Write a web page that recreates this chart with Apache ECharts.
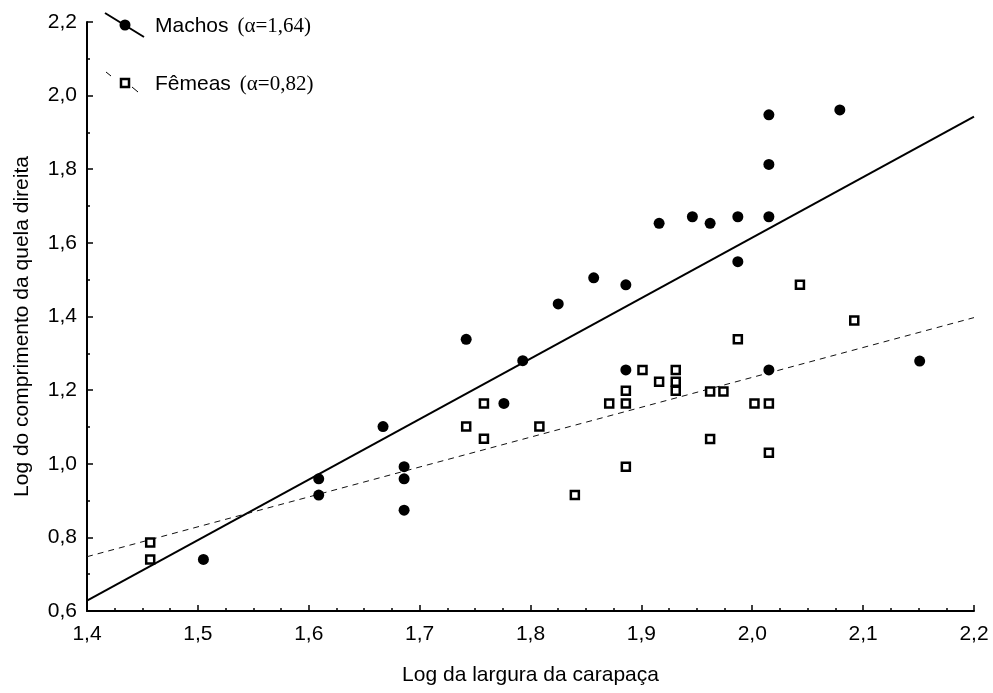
<!DOCTYPE html>
<html>
<head>
<meta charset="utf-8">
<script src="https://cdn.jsdelivr.net/npm/echarts@6/dist/echarts.min.js"></script>
<style>
html,body{margin:0;padding:0;background:#fff;}
#chart{width:993px;height:693px;}
</style>
</head>
<body>
<div id="chart"></div>
<script>
// Log da largura da carapaça (x) vs Log do comprimento da quela direita (y)
var machosX = [1.505, 1.609, 1.609, 1.667, 1.686, 1.686, 1.686, 1.742, 1.776, 1.793, 1.825, 1.857, 1.886, 1.886, 1.916, 1.946, 1.962, 1.987, 1.987, 2.015, 2.015, 2.015, 2.015, 2.079, 2.151];
var machosY = [0.740, 0.915, 0.959, 1.101, 0.992, 0.959, 0.874, 1.338, 1.164, 1.280, 1.434, 1.505, 1.486, 1.255, 1.653, 1.671, 1.653, 1.671, 1.549, 1.948, 1.813, 1.671, 1.255, 1.961, 1.279];

var femeasX = [1.457, 1.457, 1.742, 1.758, 1.758, 1.808, 1.840, 1.871, 1.886, 1.886, 1.886, 1.901, 1.916, 1.931, 1.931, 1.931, 1.962, 1.962, 1.974, 1.987, 2.002, 2.015, 2.015, 2.043, 2.092];
var femeasY = [0.786, 0.740, 1.101, 1.164, 1.068, 1.101, 0.915, 1.164, 1.198, 1.164, 0.992, 1.255, 1.223, 1.255, 1.223, 1.198, 1.196, 1.067, 1.196, 1.338, 1.164, 1.164, 1.030, 1.486, 1.389];

// Fitted lines (endpoints at x = 1.4 and 2.2)
var fitX = [1.4, 2.2];
var machosFitY = [0.628, 1.943];
var femeasFitY = [0.7475, 1.397];

var xTicks = [1.4, 1.5, 1.6, 1.7, 1.8, 1.9, 2.0, 2.1, 2.2];
var yTicks = [0.6, 0.8, 1.0, 1.2, 1.4, 1.6, 1.8, 2.0, 2.2];

var legendLabels = ['Machos', 'Fêmeas'];
var legendAlpha = ['(α=1,64)', '(α=0,82)'];

function zip(a, b) { return a.map(function (v, i) { return [v, b[i]]; }); }
function fmt(v) { return v.toFixed(1).replace('.', ','); }

var FONT = '"Liberation Sans", Arial, sans-serif';
var SERIF = '"Liberation Serif", "Times New Roman", serif';

var chart = echarts.init(document.getElementById('chart'), null, {renderer: 'canvas'});

var axisCommon = {
  axisLine: {show: true, onZero: false, lineStyle: {color: '#000', width: 2}},
  axisTick: {show: true, inside: true, length: 6, lineStyle: {color: '#000', width: 1.5}},
  minorTick: {show: true, length: 3, lineStyle: {color: '#000', width: 1.5}},
  splitLine: {show: false},
  axisLabel: {color: '#000', fontSize: 21, fontFamily: FONT, formatter: function (v) { return fmt(v); }},
  nameTextStyle: {color: '#000', fontSize: 21, fontFamily: FONT}
};

var richStyles = {
  a: {fontFamily: FONT, fontSize: 21, fill: '#000'},
  s: {fontFamily: FONT, fontSize: 21, width: 9},
  b: {fontFamily: SERIF, fontSize: 21, fill: '#000'}
};

var option = {
  animation: false,
  backgroundColor: '#fff',
  grid: {left: 87, right: 19, top: 22, bottom: 82, containLabel: false},
  xAxis: Object.assign({}, axisCommon, {
    type: 'value',
    min: xTicks[0], max: xTicks[xTicks.length - 1], interval: 0.1,
    minorTick: Object.assign({}, axisCommon.minorTick, {splitNumber: 4}),
    axisLabel: Object.assign({}, axisCommon.axisLabel, {margin: 13}),
    name: 'Log da largura da carapaça',
    nameLocation: 'middle',
    nameGap: 54
  }),
  yAxis: Object.assign({}, axisCommon, {
    type: 'value',
    min: yTicks[0], max: yTicks[yTicks.length - 1], interval: 0.2,
    minorTick: Object.assign({}, axisCommon.minorTick, {splitNumber: 2}),
    axisLabel: Object.assign({}, axisCommon.axisLabel, {margin: 10}),
    name: 'Log do comprimento da quela direita',
    nameLocation: 'middle',
    nameGap: 54,
    nameTextStyle: Object.assign({}, axisCommon.nameTextStyle, {padding: [0, 20, 0, 0]})
  }),
  series: [
    {
      name: 'Machos fit', type: 'line', data: zip(fitX, machosFitY),
      showSymbol: false, symbol: 'none', silent: true,
      lineStyle: {color: '#000', width: 2}, z: 2
    },
    {
      name: 'Fêmeas fit', type: 'line', data: zip(fitX, femeasFitY),
      showSymbol: false, symbol: 'none', silent: true,
      lineStyle: {color: '#111', width: 1, type: [6, 5]}, z: 2
    },
    {
      name: legendLabels[0], type: 'scatter', data: zip(machosX, machosY),
      symbol: 'circle', symbolSize: 11,
      itemStyle: {color: '#000', opacity: 1}, z: 3
    },
    {
      name: legendLabels[1], type: 'scatter', data: zip(femeasX, femeasY),
      symbol: 'rect', symbolSize: 8,
      itemStyle: {color: '#fff', borderColor: '#000', borderWidth: 2.5, opacity: 1}, z: 4
    }
  ],
  graphic: [
    {type: 'line', shape: {x1: 105, y1: 13, x2: 144, y2: 37}, style: {stroke: '#000', lineWidth: 2}},
    {type: 'circle', shape: {cx: 125, cy: 25, r: 5.5}, style: {fill: '#000'}},
    {type: 'text', style: {x: 155, y: 26, verticalAlign: 'middle', rich: richStyles, text: '{a|' + legendLabels[0] + '}{s| }{b|' + legendAlpha[0] + '}'}},
    {type: 'line', shape: {x1: 106, y1: 72, x2: 111, y2: 76}, style: {stroke: '#000', lineWidth: 1}},
    {type: 'line', shape: {x1: 132, y1: 87, x2: 138, y2: 92}, style: {stroke: '#000', lineWidth: 1}},
    {type: 'rect', shape: {x: 121, y: 79, width: 8, height: 8}, style: {fill: '#fff', stroke: '#000', lineWidth: 2.5}},
    {type: 'text', style: {x: 155, y: 84, verticalAlign: 'middle', rich: richStyles, text: '{a|' + legendLabels[1] + '}{s| }{b|' + legendAlpha[1] + '}'}}
  ]
};

chart.setOption(option);
</script>
</body>
</html>
